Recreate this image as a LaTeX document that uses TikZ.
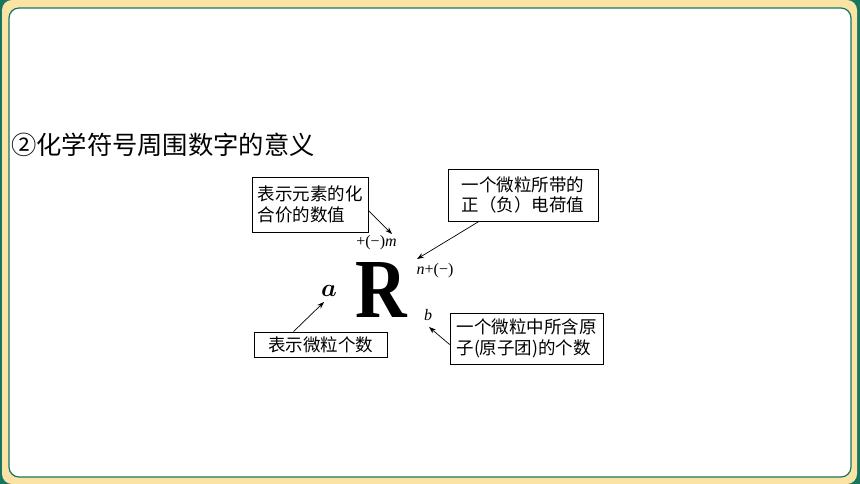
\documentclass[tikz,border=0pt]{standalone}
\usepackage{amsmath}
\usepackage{fontspec}
\usetikzlibrary{arrows.meta,positioning}
\newfontfamily\cjk{Noto Sans CJK SC}
\newfontfamily\rmser{Liberation Serif}
\definecolor{frameteal}{RGB}{22,118,94}
\definecolor{framecream}{RGB}{251,226,165}

\begin{document}
\begin{tikzpicture}[x=1pt,y=-1pt,
        tag/.style={draw, line width=0.8pt, align=left, inner sep=0pt,
            font=\cjk\fontsize{17.5}{20.5}\selectfont},
        lab/.style={inner sep=0pt, font=\rmser\fontsize{16}{16}\selectfont},
        pointer/.style={line width=0.7pt, -{Stealth[length=7pt,width=5pt]}}]
        % frame
        \fill[frameteal] (0,0) rectangle (860,484);
        \fill[framecream, rounded corners=10pt] (2,0) rectangle (857,484);
        \draw[frameteal, fill=white, line width=1.2pt, rounded corners=10pt] (9,8) rectangle (851,477);
        \useasboundingbox (0,0) rectangle (860,484);

        \node[anchor=west, inner sep=0pt, font=\cjk\fontsize{25.3}{25.3}\selectfont] (title) at (11,145) {②化学符号周围数字的意义};

        \node[inner sep=0pt, font=\rmser\bfseries\fontsize{84}{84}\selectfont, xscale=0.85] (R) at (381,290) {R};
        \node[lab] (m) at (376.5,243) {+(−)\textit{m}};
        \node[lab] (n) at (435,271) {\textit{n}+(−)};
        \node[inner sep=0pt, font=\fontsize{24}{24}\selectfont] (a) at (329,291) {$\boldsymbol{a}$};
        \node[lab] (b) at (428,315) {\textit{b}};

        \node[tag, minimum width=116pt, minimum height=55pt] (b1) at (310,204.5) {表示元素的化\\合价的数值};
        \node[tag, minimum width=150pt, minimum height=52pt] (b2) at (523,195) {一个微粒所带的\\正（负）电荷值};
        \node[tag, minimum width=133pt, minimum height=25pt] (b3) at (320.5,344.5) {表示微粒个数};
        \node[tag, minimum width=153pt, minimum height=51pt] (b4) at (526.5,338.5) {一个微粒中所含原\\子(原子团)的个数};

        \coordinate (tm) at (392,234);
        \coordinate (tn) at (417,259);
        \coordinate (ta) at (324,302);
        \coordinate (tb) at (429,327);

        \draw[pointer] ([yshift=-6pt]b1.east) -- (tm);
        \draw[pointer] ([xshift=-44pt]b2.south) -- (tn);
        \draw[pointer] ([xshift=-27pt]b3.north) -- (ta);
        \draw[pointer] ([yshift=-6pt]b4.west) -- (tb);
\end{tikzpicture}
\end{document}
